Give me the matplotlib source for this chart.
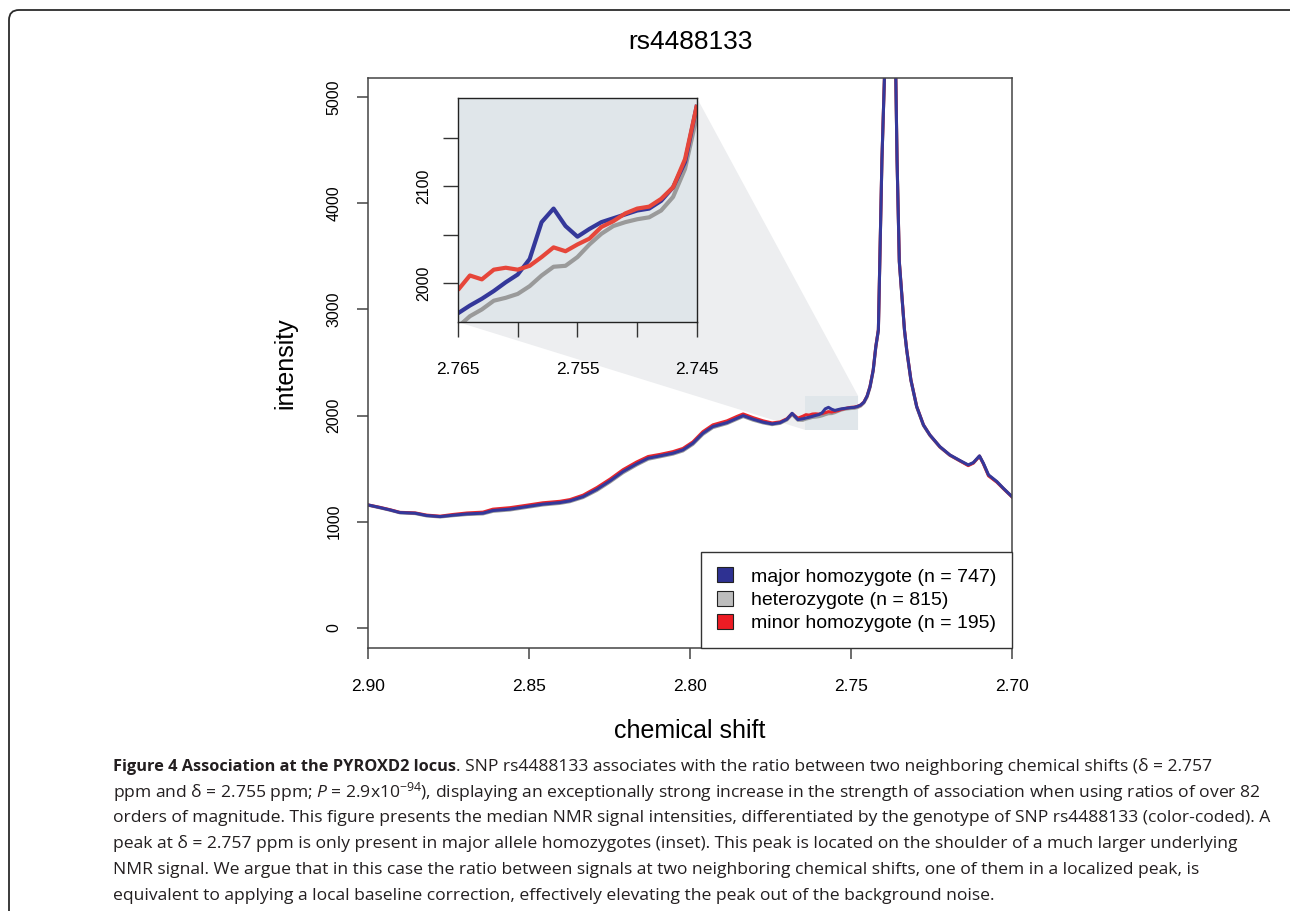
import matplotlib
matplotlib.use("Agg")
import matplotlib.pyplot as plt
from matplotlib.patches import Patch, Polygon, Rectangle, FancyBboxPatch

plt.rcParams['font.family'] = ['Liberation Sans', 'DejaVu Sans']
plt.rcParams['mathtext.fontset'] = 'custom'
plt.rcParams['mathtext.rm'] = 'Open Sans'
plt.rcParams['mathtext.it'] = 'Open Sans:italic'
plt.rcParams['mathtext.bf'] = 'Open Sans:bold'

# chemical shift (ppm) and median intensities
left_x = [2.900, 2.8963, 2.8932, 2.8901, 2.8854, 2.8818, 2.8776, 2.8736, 2.8693, 2.8643,
          2.8612, 2.8559, 2.8507, 2.8457, 2.8404, 2.8373, 2.8332, 2.8289, 2.8248, 2.8208,
          2.8166, 2.8130, 2.8093, 2.8053, 2.8022, 2.7991, 2.7960, 2.7929, 2.7885, 2.7854,
          2.7835, 2.7804, 2.7773, 2.7745, 2.7720, 2.7699, 2.7683, 2.7665]
major_left = [1158, 1133, 1111, 1086, 1080, 1058, 1048, 1061, 1073, 1080,
              1105, 1118, 1142, 1165, 1180, 1196, 1236, 1305, 1385, 1472,
              1544, 1598, 1620, 1645, 1676, 1739, 1833, 1896, 1933, 1974,
              1999, 1965, 1937, 1921, 1933, 1965, 2021, 1962]
het_left = [1155, 1130, 1108, 1083, 1076, 1054, 1044, 1056, 1067, 1073,
            1097, 1110, 1134, 1157, 1172, 1188, 1227, 1294, 1374, 1460,
            1533, 1588, 1611, 1636, 1666, 1728, 1822, 1886, 1924, 1965,
            1990, 1956, 1930, 1914, 1926, 1958, 2010, 1955]
minor_left = [1158, 1135, 1113, 1088, 1083, 1062, 1052, 1068, 1082, 1090,
              1118, 1132, 1155, 1178, 1192, 1208, 1250, 1322, 1402, 1490,
              1562, 1614, 1634, 1660, 1690, 1752, 1848, 1912, 1950, 1992,
              2015, 1980, 1950, 1930, 1940, 1970, 2018, 1975]

inset_x = [2.765, 2.764, 2.763, 2.762, 2.761, 2.760, 2.759, 2.758, 2.757, 2.756, 2.755,
           2.754, 2.753, 2.752, 2.751, 2.750, 2.749, 2.748, 2.747, 2.746, 2.745]
inset_major = [1969, 1977, 1984, 1992, 2001, 2009, 2025, 2063, 2077, 2059, 2048,
               2056, 2063, 2067, 2071, 2075, 2077, 2085, 2099, 2125, 2184]
inset_het = [1955, 1966, 1973, 1982, 1985, 1989, 1997, 2008, 2017, 2018, 2027,
             2040, 2051, 2059, 2063, 2066, 2068, 2075, 2089, 2118, 2173]
inset_minor = [1993, 2008, 2004, 2014, 2016, 2014, 2018, 2027, 2037, 2033, 2040,
               2046, 2058, 2064, 2072, 2077, 2079, 2087, 2099, 2128, 2184]

right_x = [2.7441, 2.7431, 2.7423, 2.7415, 2.7404, 2.7394, 2.7378, 2.7362, 2.7357, 2.7350,
           2.7334, 2.7327, 2.7314, 2.7296, 2.7275, 2.7255, 2.7224, 2.7193, 2.7161, 2.7136,
           2.7120, 2.7101, 2.7089, 2.7073, 2.7047, 2.7027, 2.7000]
major_right = [2272, 2429, 2649, 2806, 4407, 5400, 9500, 5400, 4407, 3450,
               2806, 2618, 2335, 2084, 1911, 1817, 1707, 1629, 1575, 1535,
               1557, 1620, 1551, 1441, 1378, 1315, 1236]
het_right = [2262, 2420, 2640, 2800, 4400, 5400, 9500, 5400, 4400, 3440,
             2800, 2610, 2328, 2078, 1905, 1812, 1702, 1625, 1571, 1532,
             1553, 1615, 1547, 1437, 1374, 1312, 1233]
minor_right = [2275, 2432, 2652, 2810, 4410, 5400, 9500, 5400, 4410, 3455,
               2810, 2620, 2338, 2086, 1912, 1816, 1705, 1627, 1572, 1528,
               1552, 1618, 1546, 1432, 1372, 1312, 1234]

groups = ['major homozygote (n = 747)', 'heterozygote (n = 815)', 'minor homozygote (n = 195)']
line_colors = ['#34389A', '#9A9A9A', '#E8262C']
box_colors = ['#2E3192', '#BDBDBD', '#ED1C24']

title = 'rs4488133'
xticks = [2.90, 2.85, 2.80, 2.75, 2.70]
yticks = [0, 1000, 2000, 3000, 4000, 5000]
inset_xticks = [2.765, 2.760, 2.755, 2.750, 2.745]
inset_xlabels = ['2.765', '', '2.755', '', '2.745']
inset_yticks = [2000, 2050, 2100, 2150]
inset_ylabels = ['2000', '', '2100', '']

caption_bold = 'Figure 4 Association at the PYROXD2 locus'
caption_lines = [
    '. SNP rs4488133 associates with the ratio between two neighboring chemical shifts (\u03b4 = 2.757',
    'ppm and \u03b4 = 2.755 ppm; $P$ = 2.9x10$^{-94}$), displaying an exceptionally strong increase in the strength of association when using ratios of over 82',
    'orders of magnitude. This figure presents the median NMR signal intensities, differentiated by the genotype of SNP rs4488133 (color-coded). A',
    'peak at \u03b4 = 2.757 ppm is only present in major allele homozygotes (inset). This peak is located on the shoulder of a much larger underlying',
    'NMR signal. We argue that in this case the ratio between signals at two neighboring chemical shifts, one of them in a localized peak, is',
    'equivalent to applying a local baseline correction, effectively elevating the peak out of the background noise.',
]

major = major_left + inset_major + major_right
het = het_left + inset_het + het_right
minor = minor_left + inset_minor + minor_right
main_x = left_x + inset_x + right_x

fig = plt.figure(figsize=(12.9, 9.11), dpi=100)

# outer rounded frame
frame = FancyBboxPatch((0.09, -0.5), 14.0, 9.01 + 0.5, boxstyle='round,pad=0,rounding_size=0.1',
                       transform=fig.dpi_scale_trans, fill=False, ec='#2b2b2b', lw=1.3, clip_on=False)
fig.patches.append(frame)

ax = fig.add_axes([0.2853, 0.2887, 0.4992, 0.6257])
ax.set_xlim(2.90, 2.70)
ax.set_ylim(-190, 5180)

# zoom region + connecting shade
inset_pos = [0.3550, 0.6465, 0.1853, 0.2459]
rx0, rx1, ry0, ry1 = 2.7643, 2.7478, 1865, 2185
fig.canvas.draw()
to_data = ax.transData.inverted()
bl = to_data.transform(fig.transFigure.transform((inset_pos[0], inset_pos[1])))
tr = to_data.transform(fig.transFigure.transform((inset_pos[0] + inset_pos[2], inset_pos[1] + inset_pos[3])))
ax.add_patch(Polygon([bl, tr, (rx1, ry1), (rx1, ry0), (rx0, ry0)], closed=True,
                     fc='#EDEEF0', ec='none', zorder=0.5))
ax.add_patch(Rectangle((rx0, ry0), rx1 - rx0, ry1 - ry0, fc='#E0E6EA', ec='none', zorder=0.6))

ax.plot(main_x, het, color=line_colors[1], lw=2.2, zorder=2)
ax.plot(main_x, minor, color=line_colors[2], lw=2.2, zorder=2.1)
ax.plot(main_x, major, color=line_colors[0], lw=2.2, zorder=2.2)

ax.set_xticks(xticks)
ax.set_xticklabels(['%.2f' % v for v in xticks], fontsize=12.5)
ax.set_yticks(yticks)
ax.set_yticklabels([str(v) for v in yticks], fontsize=11.5, rotation=90, va='center')
ax.tick_params(axis='x', length=8, width=1.1, color='#444444', pad=14)
ax.tick_params(axis='y', length=8, width=1.1, color='#444444', pad=11)
for s in ax.spines.values():
    s.set_color('#444444')
    s.set_linewidth(1.1)

ax.set_xlabel('chemical shift', fontsize=18, va='center')
ax.xaxis.set_label_coords(0.5, -0.1456)
ax.set_ylabel('intensity', fontsize=18, va='center')
ax.yaxis.set_label_coords(-0.1289, 0.5)

handles = [Patch(fc=c, ec='#222222', lw=0.8) for c in box_colors]
leg = ax.legend(handles, groups, loc='lower right', bbox_to_anchor=(1, 0), borderaxespad=0,
                fontsize=14, frameon=True, fancybox=False, framealpha=1, edgecolor='#333333',
                handlelength=0.8, handleheight=0.8, handletextpad=0.95, labelspacing=0.27,
                borderpad=0.8)
leg.get_frame().set_linewidth(1.0)
leg.set_zorder(5)

# inset
axi = fig.add_axes(inset_pos)
axi.set_facecolor('#E0E6EA')
axi.set_xlim(2.765, 2.745)
axi.set_ylim(1960, 2191)
axi.plot(inset_x, inset_het, color=line_colors[1], lw=3, solid_capstyle='butt')
axi.plot(inset_x, inset_major, color=line_colors[0], lw=3, solid_capstyle='butt')
axi.plot(inset_x, inset_minor, color='#E6463A', lw=3, solid_capstyle='butt')
axi.set_xticks(inset_xticks)
axi.set_xticklabels(inset_xlabels, fontsize=12.5)
axi.set_yticks(inset_yticks)
axi.set_yticklabels(inset_ylabels, fontsize=11.5, rotation=90, va='center')
axi.tick_params(axis='x', length=11, width=1.0, color='#333333', pad=18)
axi.tick_params(axis='y', length=11, width=1.0, color='#333333', pad=8)
for s in axi.spines.values():
    s.set_color('#222222')
    s.set_linewidth(1.0)

fig.text(0.5349, 0.954, title, fontsize=19, ha='center', va='center')

# caption
cap_x = 113 / 1290
cap_base = [771, 797, 822.5, 848, 874, 899.5]
cap_font = dict(family=['Open Sans', 'DejaVu Sans'], fontsize=12.6, color='#231F20')
bold_font = dict(cap_font, fontsize=11.8)
tb = fig.text(cap_x, 1 - cap_base[0] / 911, caption_bold, va='baseline', fontweight='bold', **bold_font)
fig.canvas.draw()
bb = tb.get_window_extent().transformed(fig.transFigure.inverted())
fig.text(bb.x1, 1 - cap_base[0] / 911, caption_lines[0], va='baseline', **cap_font)
for line, yb in zip(caption_lines[1:], cap_base[1:]):
    fig.text(cap_x, 1 - yb / 911, line, va='baseline', **cap_font)

fig.savefig('out.png', dpi=100)
